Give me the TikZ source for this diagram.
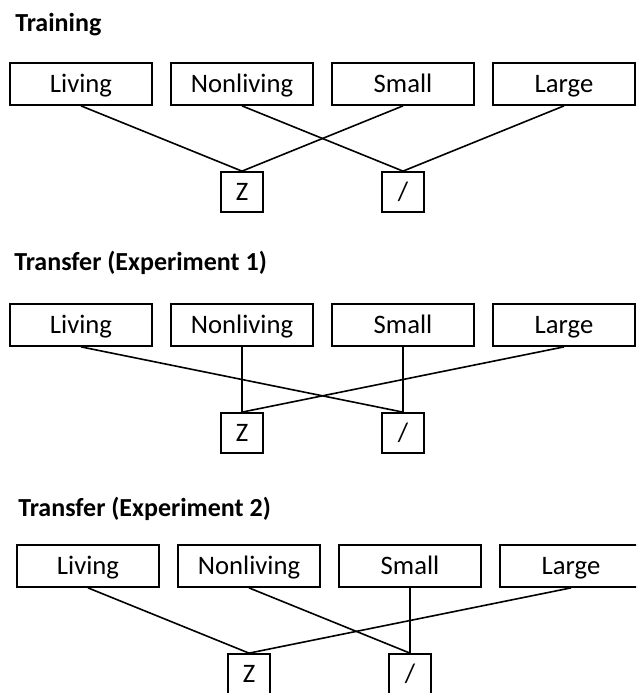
\documentclass[tikz,border=0pt]{standalone}
\usepackage{fontspec}
\setmainfont{Carlito}
\begin{document}
\begin{tikzpicture}[x=0.75pt,y=-0.75pt,
  cat/.style={draw,line width=1.3pt,minimum width=106.5pt,minimum height=31.5pt,inner sep=0pt,
    text height=12.9pt,text depth=0pt,font=\fontsize{20}{24}\selectfont},
  key/.style={draw,line width=1.3pt,minimum width=32pt,minimum height=30pt,inner sep=0pt,
    text height=12.9pt,text depth=0pt,font=\fontsize{20}{24}\selectfont},
  link/.style={line width=1.2pt},
  title/.style={anchor=base west,inner sep=0pt,font=\fontsize{19.5}{24}\selectfont\bfseries}]
\clip (0,0) rectangle (636,693);
\node [title] (t1) at (15,31) {Training};
\node [title] (t2) at (14,270) {Transfer (Experiment 1)};
\node [title] (t3) at (18,516) {Transfer (Experiment 2)};
% boxes of the three panels
\foreach \row/\y/\dx in {1/84/0,2/325/0,3/566/7} {
  \foreach \name/\x/\txt in {liv/81/Living,non/242/Nonliving,sma/403/Small,lar/564/Large}
    \node [cat] (\name\row) at (\x+\dx,\y) {\txt};
  \node [key] (z\row) at (242+\dx,\y+108) {Z};
  \node [key] (sl\row) at (403+\dx,\y+108) {/};
}
% training
\draw [link] (liv1.south) -- (z1.north);
\draw [link] (sma1.south) -- (z1.north);
\draw [link] (non1.south) -- (sl1.north);
\draw [link] (lar1.south) -- (sl1.north);
% experiment 1
\draw [link] (non2.south) -- (z2.north);
\draw [link] (lar2.south) -- (z2.north);
\draw [link] (liv2.south) -- (sl2.north);
\draw [link] (sma2.south) -- (sl2.north);
% experiment 2
\draw [link] (liv3.south) -- (z3.north);
\draw [link] (lar3.south) -- (z3.north);
\draw [link] (non3.south) -- (sl3.north);
\draw [link] (sma3.south) -- (sl3.north);
\end{tikzpicture}
\end{document}
